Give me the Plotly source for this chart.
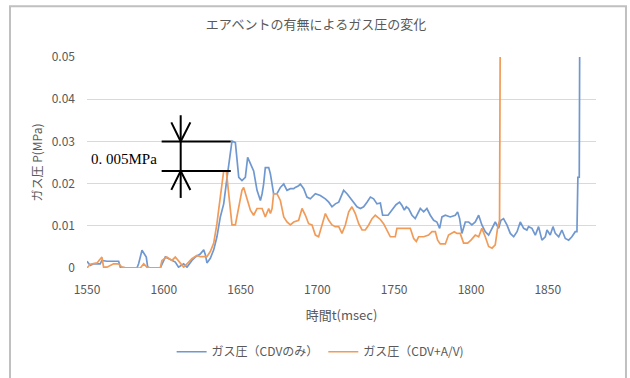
import plotly.graph_objects as go

# Gas pressure vs. time, two configurations
blue_t = [1550.0, 1552.1, 1554.3, 1558.6, 1559.7, 1563.0, 1570.6, 1571.7, 1576.0, 1582.5,
          1583.6, 1585.8, 1588.6, 1589.5, 1591.2, 1597.7, 1601.0, 1604.2, 1607.5, 1609.6,
          1612.9, 1615.1, 1618.3, 1620.5, 1623.7, 1626.0, 1627.1, 1628.1, 1630.3, 1632.5,
          1634.6, 1636.8, 1639.0, 1641.2, 1643.3, 1644.4, 1646.6, 1647.7, 1648.8, 1650.9,
          1653.1, 1654.6, 1656.4, 1658.5, 1660.7, 1662.9, 1664.0, 1665.0, 1666.1, 1668.3,
          1669.4, 1670.5, 1671.5, 1673.7, 1675.9, 1678.1, 1680.2, 1682.4, 1684.6, 1685.6,
          1687.8, 1688.9, 1691.1, 1693.2, 1695.4, 1698.7, 1701.9, 1705.2, 1707.4, 1709.5,
          1711.7, 1713.9, 1716.0, 1717.1, 1719.3, 1722.5, 1725.8, 1728.0, 1730.1, 1732.3,
          1734.5, 1736.6, 1738.8, 1741.0, 1742.5, 1746.0, 1749.0, 1751.2, 1753.5, 1755.1,
          1756.6, 1757.9, 1759.4, 1761.6, 1763.7, 1765.9, 1767.0, 1769.2, 1771.3, 1773.5,
          1775.7, 1777.8, 1779.6, 1781.1, 1783.3, 1786.5, 1789.8, 1791.3, 1792.6, 1794.1,
          1796.3, 1798.5, 1800.6, 1802.8, 1805.0, 1807.1, 1809.3, 1811.5, 1813.7, 1815.8,
          1818.0, 1819.5, 1821.2, 1823.4, 1825.6, 1827.8, 1830.0, 1832.1, 1834.3, 1836.4,
          1837.5, 1839.7, 1841.9, 1844.0, 1846.2, 1848.4, 1849.5, 1851.6, 1853.4, 1854.9,
          1857.1, 1859.2, 1861.4, 1863.6, 1865.7, 1867.9, 1869.0, 1869.6, 1870.5, 1871.2]
blue_p = [0.0016, 0.0006, 0.0010, 0.0010, 0.0018, 0.0016, 0.0016, 0.0002, 0.0, 0.0,
          0.0010, 0.0042, 0.0026, 0.0002, 0.0, 0.0, 0.0026, 0.0020, 0.0014, 0.0002,
          0.0010, 0.0002, 0.0018, 0.0026, 0.0033, 0.0043, 0.0031, 0.0012, 0.0023, 0.0043,
          0.0074, 0.0121, 0.0152, 0.0215, 0.0270, 0.0301, 0.0297, 0.0254, 0.0215, 0.0207,
          0.0215, 0.0262, 0.0246, 0.0230, 0.0184, 0.0160, 0.0176, 0.0199, 0.0238, 0.0238,
          0.0223, 0.0199, 0.0176, 0.0176, 0.0191, 0.0199, 0.0184, 0.0188, 0.0188, 0.0191,
          0.0195, 0.0199, 0.0188, 0.0168, 0.0164, 0.0176, 0.0172, 0.0164, 0.0156, 0.0145,
          0.0152, 0.0156, 0.0172, 0.0184, 0.0176, 0.0160, 0.0145, 0.0141, 0.0145, 0.0156,
          0.0168, 0.0164, 0.0152, 0.0154, 0.0125, 0.0125, 0.0139, 0.0150, 0.0156, 0.0148,
          0.0137, 0.0145, 0.0141, 0.0125, 0.0117, 0.0133, 0.0141, 0.0133, 0.0141, 0.0125,
          0.0113, 0.0109, 0.0094, 0.0121, 0.0125, 0.0121, 0.0125, 0.0133, 0.0117, 0.0082,
          0.0109, 0.0109, 0.0102, 0.0109, 0.0125, 0.0102, 0.0086, 0.0078, 0.0094, 0.0109,
          0.0094, 0.0113, 0.0117, 0.0102, 0.0082, 0.0074, 0.0086, 0.0109, 0.0094, 0.0090,
          0.0098, 0.0094, 0.0078, 0.0098, 0.0066, 0.0074, 0.0090, 0.0078, 0.0098, 0.0082,
          0.0074, 0.0090, 0.0070, 0.0066, 0.0074, 0.0086, 0.0086, 0.0215, 0.0215, 0.1000]

orange_t = [1550.0, 1552.1, 1556.5, 1559.7, 1560.8, 1563.0, 1567.3, 1570.6, 1572.7, 1576.0,
            1584.7, 1586.9, 1589.0, 1591.2, 1597.7, 1598.8, 1602.0, 1605.3, 1607.5, 1610.7,
            1612.9, 1615.1, 1618.3, 1621.6, 1623.8, 1628.1, 1630.3, 1632.5, 1633.6, 1634.6,
            1635.7, 1636.8, 1637.9, 1639.0, 1640.7, 1642.2, 1643.3, 1644.4, 1646.6, 1648.8,
            1650.9, 1652.0, 1654.2, 1656.4, 1658.5, 1660.7, 1664.0, 1666.1, 1668.3, 1669.4,
            1670.5, 1671.5, 1673.7, 1675.9, 1678.1, 1680.2, 1682.4, 1684.6, 1687.8, 1690.0,
            1692.2, 1694.3, 1696.5, 1698.7, 1700.8, 1703.0, 1705.2, 1707.4, 1709.5, 1711.7,
            1713.9, 1716.0, 1718.2, 1720.4, 1722.5, 1724.7, 1726.9, 1729.1, 1731.2, 1733.4,
            1735.6, 1737.7, 1741.0, 1743.1, 1745.3, 1747.5, 1750.7, 1751.8, 1756.1, 1760.5,
            1762.7, 1764.4, 1765.9, 1769.2, 1772.4, 1774.6, 1776.8, 1778.3, 1780.0, 1783.3,
            1785.4, 1787.6, 1789.1, 1790.9, 1793.0, 1795.2, 1797.8, 1800.0, 1802.8, 1805.0,
            1807.1, 1809.3, 1811.5, 1813.7, 1815.8, 1817.3, 1818.6, 1819.5]
orange_p = [0.0, 0.0009, 0.0012, 0.0026, 0.0002, 0.0002, 0.0010, 0.0010, 0.0002, 0.0,
            0.0, 0.0010, 0.0002, 0.0, 0.0, 0.0018, 0.0026, 0.0018, 0.0026, 0.0010,
            0.0002, 0.0010, 0.0022, 0.0030, 0.0027, 0.0027, 0.0039, 0.0059, 0.0082, 0.0105,
            0.0137, 0.0168, 0.0199, 0.0230, 0.0230, 0.0176, 0.0145, 0.0102, 0.0102, 0.0145,
            0.0184, 0.0191, 0.0164, 0.0137, 0.0125, 0.0141, 0.0141, 0.0121, 0.0141, 0.0129,
            0.0141, 0.0176, 0.0176, 0.0160, 0.0121, 0.0109, 0.0102, 0.0109, 0.0113, 0.0141,
            0.0125, 0.0105, 0.0102, 0.0078, 0.0074, 0.0105, 0.0129, 0.0113, 0.0102, 0.0098,
            0.0098, 0.0082, 0.0102, 0.0133, 0.0145, 0.0129, 0.0105, 0.0090, 0.0090, 0.0102,
            0.0117, 0.0125, 0.0115, 0.0105, 0.0090, 0.0074, 0.0074, 0.0094, 0.0094, 0.0094,
            0.0070, 0.0063, 0.0074, 0.0074, 0.0078, 0.0086, 0.0086, 0.0066, 0.0057, 0.0057,
            0.0078, 0.0082, 0.0086, 0.0082, 0.0082, 0.0059, 0.0059, 0.0066, 0.0078, 0.0074,
            0.0094, 0.0074, 0.0051, 0.0047, 0.0055, 0.0094, 0.0113, 0.1000]

series_names = ["ガス圧（CDVのみ）", "ガス圧（CDV+A/V)"]
x_ticks = [1550, 1600, 1650, 1700, 1750, 1800, 1850]
y_ticks = [0, 0.01, 0.02, 0.03, 0.04, 0.05]

TXT = "#595959"
FONT = "Noto Sans CJK JP"

fig = go.Figure()
fig.add_trace(go.Scatter(x=blue_t, y=blue_p, mode="lines", name=series_names[0],
                         line=dict(color="#7098d0", width=1.7)))
fig.add_trace(go.Scatter(x=orange_t, y=orange_p, mode="lines", name=series_names[1],
                         line=dict(color="#f19b58", width=1.7)))

# dimension marker between the two peaks
blk = dict(color="black", width=2)
for y0 in (0.030, 0.023):
    fig.add_shape(type="line", xref="x", yref="y", x0=1598.6, x1=1643.6, y0=y0, y1=y0, line=blk)
fig.add_shape(type="line", xref="x", yref="y", x0=1611.0, x1=1611.0, y0=0.0362, y1=0.0166, line=blk)
fig.add_shape(type="path", xref="x", yref="y",
              path="M1604.9,0.0345 L1611.0,0.0300 L1617.3,0.0345", line=blk)
fig.add_shape(type="path", xref="x", yref="y",
              path="M1604.9,0.0185 L1611.0,0.0230 L1617.3,0.0185", line=blk)
fig.add_annotation(x=1574.1, y=0.0259, xref="x", yref="y", text="0. 005MPa", showarrow=False,
                   font=dict(family="Liberation Serif, serif", size=15, color="black"))

# chart-area frame
fig.add_shape(type="rect", xref="paper", yref="paper", x0=-0.1513, x1=1.0589, y0=-0.62, y1=1.241,
              line=dict(color="#c0c0c0", width=2), layer="below")

fig.update_layout(
    width=630, height=378,
    margin=dict(l=87, r=34, t=57, b=107),
    paper_bgcolor="white", plot_bgcolor="white",
    font=dict(family=FONT, color=TXT, size=12),
    title=dict(text="エアベントの有無によるガス圧の変化", x=0.5016, xanchor="center",
               y=0.935, yanchor="middle", font=dict(size=13, color=TXT, family=FONT)),
    xaxis=dict(range=[1550, 1881.4], tickvals=x_ticks, showgrid=False, zeroline=False,
               showline=False, ticks="", ticklabelstandoff=13,
               tickfont=dict(size=12, color=TXT),
               title=dict(text="時間t(msec)", standoff=14, font=dict(size=13, color=TXT))),
    yaxis=dict(range=[0, 0.05], tickvals=y_ticks, showgrid=True, gridcolor="#d9d9d9",
               gridwidth=1, zeroline=False, showline=False, ticks="", ticklabelstandoff=11,
               tickfont=dict(size=12, color=TXT),
               title=dict(text="ガス圧 P(MPa)", standoff=6, font=dict(size=12, color=TXT))),
    legend=dict(orientation="h", x=0.458, xanchor="center", y=-0.397, yanchor="middle",
                font=dict(size=12, color=TXT), bgcolor="rgba(0,0,0,0)"),
    showlegend=True,
)

fig.write_html("out.html", config={"displayModeBar": False})
